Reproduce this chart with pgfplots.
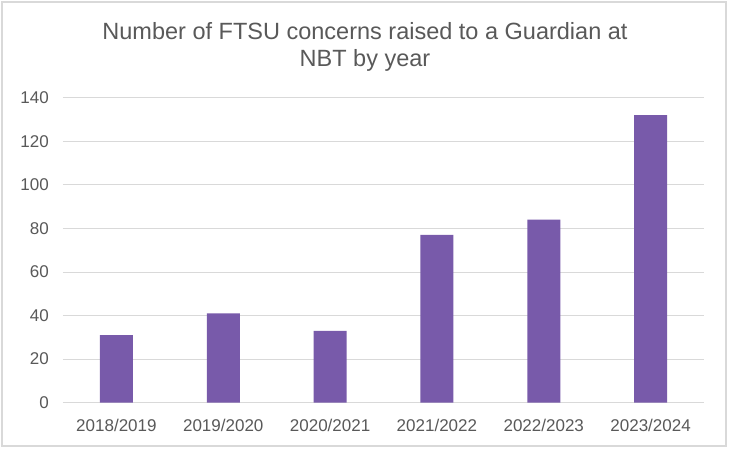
\documentclass[border=0pt]{standalone}
\usepackage{fontspec}
\setmainfont{Liberation Sans}
\usepackage{pgfplots}
\pgfplotsset{compat=1.18}
\definecolor{barpurple}{RGB}{120,90,170}
\definecolor{txtgray}{RGB}{89,89,89}
\definecolor{gridgray}{RGB}{217,217,217}
\begin{document}
\begin{tikzpicture}[x=1pt,y=1pt]
\useasboundingbox (0,0) rectangle (732,451);
\fill[white] (0,0) rectangle (732,451);
\draw[gridgray, line width=1.2pt] (2,5) rectangle (726,449);
\node[anchor=base, text=txtgray, font=\fontsize{23.5}{28}\selectfont] at (365,411.5) {Number of FTSU concerns raised to a Guardian at};
\node[anchor=base, text=txtgray, font=\fontsize{23.5}{28}\selectfont] at (365,384) {NBT by year};
\begin{axis}[
  at={(63pt,48.3pt)}, anchor=south west,
  scale only axis,
  width=641pt, height=305pt,
  xmin=-0.5, xmax=5.5,
  ymin=0, ymax=140,
  ytick={0,20,...,140},
  xtick=data,
  xticklabels={2018/2019,2019/2020,2020/2021,2021/2022,2022/2023,2023/2024},
  axis line style={draw=none},
  major tick length=0pt,
  ymajorgrids,
  grid style={gridgray, line width=0.9pt},
  tick label style={text=txtgray, font=\fontsize{17}{20}\selectfont},
  /pgf/number format/assume math mode=true,
  yticklabel style={anchor=east, inner sep=0pt, xshift=-14pt},
  xticklabel style={anchor=base, inner sep=0pt, yshift=-29pt},
  ybar, bar width=33pt,
]
\addplot[fill=barpurple, draw=none] coordinates {(0,31) (1,41) (2,33) (3,77) (4,84) (5,132)};
\end{axis}
\end{tikzpicture}
\end{document}
